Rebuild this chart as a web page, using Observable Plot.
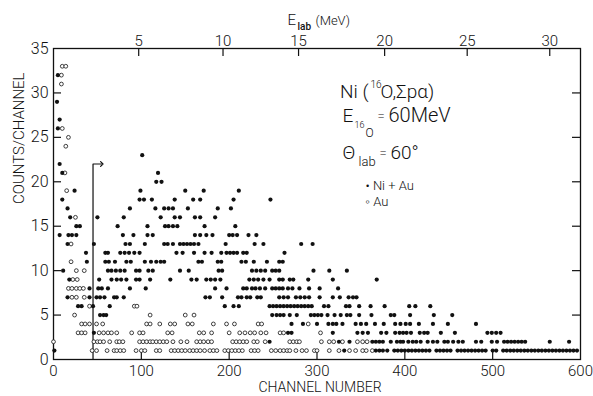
<!DOCTYPE html>
<html><head><meta charset="utf-8">
<script src="https://cdn.jsdelivr.net/npm/d3@7"></script>
<script src="https://cdn.jsdelivr.net/npm/@observablehq/plot@0.6"></script>
<style>body{margin:0;background:#fff}svg{display:block}</style>
</head><body><div id="chart"></div>
<script>
// ---- axis ticks ----
const xTicks = [0, 100, 200, 300, 400, 500, 600];
const yTicks = [0, 5, 10, 15, 20, 25, 30, 35];
const eTickLabels = [5, 10, 15, 20, 25, 30];          // E_lab (MeV)
const eTickChannels = [97, 193, 279, 377, 471, 565];  // channel of each E_lab tick

// ---- Ni + Au (filled dots): counts level and channels at that level ----
const niAuLevels = [32, 29, 27, 26, 23, 22, 21, 20, 19, 18, 17, 16, 15, 14, 13, 12, 11, 10, 9, 8, 7, 6, 5, 4, 3, 2, 1];
const niAuChannels = [
  [5], [4], [7], [5], [101], [7], [10, 119], [117, 123],
  [24, 99, 150, 171, 211],
  [10, 98, 103, 112, 138, 159, 167, 205, 247],
  [16, 87, 116, 126, 131, 136, 153, 187, 202],
  [19, 50, 80, 122, 138, 144, 161, 167, 184],
  [26, 30, 73, 107, 127, 131, 136, 141, 172, 207],
  [7, 17, 21, 26, 79, 91, 107, 113, 161, 167, 174, 181, 200, 204, 209, 222, 231],
  [16, 46, 82, 87, 104, 126, 130, 136, 144, 148, 152, 156, 160, 165, 196, 229, 239, 282, 295],
  [37, 59, 62, 76, 81, 86, 92, 98, 140, 147, 160, 172, 180, 191, 197, 201, 205, 209, 216, 220, 263],
  [38, 59, 63, 70, 83, 88, 104, 111, 117, 122, 126, 165, 169, 187, 191, 214, 219, 228, 243, 257, 261],
  [11, 62, 66, 71, 76, 81, 94, 98, 108, 113, 144, 154, 188, 192, 226, 231, 236, 241, 249, 253, 257, 296, 314, 334],
  [18, 52, 66, 72, 77, 83, 94, 98, 110, 133, 157, 163, 174, 179, 184, 190, 223, 228, 233, 239, 246, 257, 261, 269, 273, 290, 318, 368],
  [41, 51, 55, 62, 87, 105, 184, 197, 216, 220, 226, 230, 235, 241, 249, 253, 257, 261, 267, 272, 280, 291, 303, 324],
  [16, 41, 49, 53, 58, 69, 72, 80, 173, 178, 192, 210, 214, 220, 224, 232, 236, 257, 262, 267, 276, 281, 286, 291, 303, 318, 326, 336, 341, 345],
  [28, 32, 45, 64, 195, 205, 211, 246, 250, 254, 258, 262, 266, 270, 274, 278, 282, 286, 290, 294, 308, 313, 333, 337, 348, 361, 377, 405, 412, 429],
  [53, 57, 60, 249, 254, 258, 262, 269, 277, 293, 297, 301, 305, 312, 320, 327, 334, 338, 348, 362, 384, 388, 406, 433, 454],
  [271, 284, 300, 313, 318, 322, 329, 344, 350, 356, 366, 376, 389, 395, 401, 406, 416, 432, 449, 481],
  [46, 267, 271, 318, 346, 352, 358, 373, 379, 389, 394, 398, 402, 407, 417, 422, 426, 441, 457, 494, 499, 504, 509],
  [246, 325, 337, 363, 367, 371, 375, 384, 391, 395, 398, 404, 409, 413, 418, 426, 432, 437, 445, 449, 455, 461, 466, 481, 487, 499, 505, 513, 517, 521, 525, 529, 533, 537, 565, 587],
  [1, 331, 367, 371, 375, 380, 388, 392, 396, 400, 404, 408, 412, 416, 420, 424, 428, 436, 440, 444, 448, 452, 460, 464, 468, 472, 476, 480, 484, 488, 492, 500, 504, 512, 516, 520, 524, 528, 532, 536, 540, 544, 548, 552, 556, 560, 564, 568, 572, 576, 580, 584, 588, 592, 596]
];

// ---- Au (open circles) ----
const auLevels = [33, 32, 31, 26, 25, 24, 21, 19, 16, 13, 11, 10, 9, 8, 7, 6, 5, 4, 3, 2, 1];
const auChannels = [
  [10, 14], [9], [9], [10], [17], [14], [13], [15], [25], [20], [20], [26, 35], [22, 27],
  [17, 21, 26, 30, 34],
  [21, 26, 35],
  [41, 92, 95],
  [24, 110, 150, 160],
  [32, 36, 41, 49, 56, 106, 110, 121, 133, 138, 153, 158, 182, 197, 206, 233, 237, 290],
  [28, 32, 36, 52, 57, 62, 66, 72, 89, 98, 102, 130, 135, 166, 171, 180, 200, 212, 218, 224, 229, 236, 242, 258, 262, 304],
  [0, 46, 50, 53, 57, 64, 72, 75, 79, 98, 102, 106, 110, 113, 117, 121, 125, 129, 136, 145, 152, 163, 167, 171, 176, 180, 204, 208, 212, 216, 220, 228, 232, 241, 269, 273, 277, 280, 305, 314, 319, 329, 346, 352, 357],
  [44, 49, 61, 69, 72, 76, 80, 94, 100, 104, 117, 121, 134, 138, 142, 146, 150, 155, 159, 163, 167, 172, 178, 182, 186, 195, 199, 203, 207, 211, 215, 225, 229, 233, 248, 253, 258, 262, 266, 269, 276, 283, 288, 297, 300, 314, 325, 337, 344, 352, 356, 363]
];

// ---- marker arrow (channel, counts) ----
const arrowChannels = [45, 45, 55];
const arrowCounts = [0, 22, 22];

const flat = (levels, chans) => levels.flatMap((c, i) => chans[i].map(ch => ({channel: ch, counts: c})));
const niAu = flat(niAuLevels, niAuChannels);
const au = flat(auLevels, auChannels);
const arrow = arrowChannels.map((ch, i) => ({channel: ch, counts: arrowCounts[i]}));

const W = 593, H = 396, ML = 53, MR = 13, MT = 48, MB = 37;
const FW = W - ML - MR, FH = H - MT - MB, TICK = 8;
const FONT = "Roboto, 'Liberation Sans', sans-serif";

// helper for free text placed in absolute pixels (baseline at y)
const label = (t, x, y, size, opts = {}) => Plot.text([t], {
  text: d => d, frameAnchor: "top-left", dx: x - ML, dy: y - MT,
  lineAnchor: "bottom", textAnchor: "start", fontSize: size, fill: "#111", ...opts
});

const chart = Plot.plot({
  width: W, height: H,
  marginLeft: ML, marginRight: MR, marginTop: MT, marginBottom: MB,
  x: {domain: [0, 600]},
  y: {domain: [0, 35]},
  style: {fontFamily: FONT, fontWeight: 300, background: "#fff", color: "#111"},
  marks: [
    Plot.frame({stroke: "#111", strokeWidth: 1.3}),
    Plot.axisX({ticks: xTicks, tickSize: 0, tickPadding: 6, fontSize: 15, label: null}),
    Plot.axisY({ticks: yTicks, tickSize: 0, tickPadding: 5, fontSize: 16, label: null}),
    // inward ticks
    Plot.tickX(xTicks.slice(1, -1), {x: d => d, insetTop: FH - TICK, stroke: "#111", strokeWidth: 1.2}),
    Plot.tickX(eTickChannels, {x: d => d, insetBottom: FH - TICK, stroke: "#111", strokeWidth: 1.2}),
    Plot.tickY(yTicks.slice(1, -1), {y: d => d, insetRight: FW - TICK, stroke: "#111", strokeWidth: 1.2}),
    Plot.tickY(yTicks.slice(1, -1), {y: d => d, insetLeft: FW - TICK, stroke: "#111", strokeWidth: 1.2}),
    // top (energy) tick labels
    Plot.text(eTickChannels, {x: d => d, text: (d, i) => String(eTickLabels[i]), frameAnchor: "top", dy: -3, lineAnchor: "bottom", fontSize: 15, fill: "#111"}),
    // axis titles
    Plot.text(["COUNTS/CHANNEL"], {text: d => d, frameAnchor: "left", dx: -34, rotate: -90, fontSize: 15, fill: "#111"}),
    Plot.text(["CHANNEL NUMBER"], {text: d => d, frameAnchor: "bottom", dx: 3, dy: 28.5, lineAnchor: "middle", fontSize: 14, fill: "#111"}),
    label("E", 287, 24, 15),
    label("lab", 297, 29, 10, {fontWeight: 500}),
    label("(MeV)", 315, 24, 13),
    // marker arrow
    Plot.line(arrow, {x: "channel", y: "counts", stroke: "#111", strokeWidth: 1.2, markerEnd: "arrow"}),
    // data
    Plot.dot(au, {x: "channel", y: "counts", r: 1.9, stroke: "#111", strokeWidth: 0.8, fill: "#fff"}),
    Plot.dot(niAu, {x: "channel", y: "counts", r: 2.1, fill: "#111", stroke: "none"}),
    // annotations
    label("Ni (", 368, 97, 19, {textAnchor: "end"}),
    label("16", 370, 87, 10),
    label("O,Σpα)", 380, 97, 19),
    label("E", 342, 121, 19),
    label("16", 354, 127, 9),
    label("O", 365, 136, 12),
    label("=", 377, 119, 13),
    label("60MeV", 388, 121, 20),
    label("Θ", 342, 158, 19),
    label("lab", 358, 165, 13),
    label("=", 379, 156, 13),
    label("60°", 390, 158, 19),
    label("• Ni + Au", 365, 189, 13),
    label("◦ Au", 365, 205, 13)
  ]
});
document.getElementById("chart").appendChild(chart);
</script>
</body></html>
